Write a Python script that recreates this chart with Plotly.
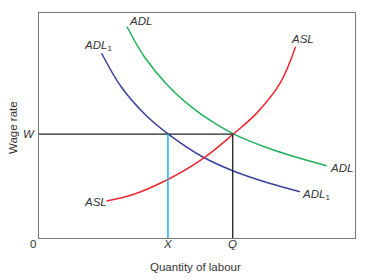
import plotly.graph_objects as go

# Curve points (x: quantity of labour, y: wage rate)
adl_x = [2.78, 3.35, 4.09, 4.83, 5.47, 6.15, 7.20, 8.04, 9.10]
adl_y = [9.40, 8.02, 6.76, 5.82, 5.18, 4.63, 4.02, 3.63, 3.21]

adl1_x = [1.98, 2.60, 3.35, 4.09, 5.19, 6.15, 7.21, 8.26]
adl1_y = [8.21, 6.72, 5.50, 4.62, 3.60, 2.98, 2.47, 2.06]

asl_x = [2.14, 2.98, 4.09, 5.20, 6.15, 6.89, 7.63, 8.12]
asl_y = [1.64, 1.93, 2.61, 3.54, 4.62, 5.55, 6.88, 8.50]

X_val = 4.08
Q_val = 6.13
W_val = 4.62

x_tick_labels = ["0", "X", "Q"]
y_tick_labels = ["W"]

fig = go.Figure()

line_w = 1.5
fig.add_trace(go.Scatter(x=adl_x, y=adl_y, mode="lines",
                         line=dict(color="#1fb25a", width=line_w, shape="spline", smoothing=1.0)))
fig.add_trace(go.Scatter(x=adl1_x, y=adl1_y, mode="lines",
                         line=dict(color="#3c3f9c", width=line_w, shape="spline", smoothing=1.0)))
fig.add_trace(go.Scatter(x=asl_x, y=asl_y, mode="lines",
                         line=dict(color="#f0262e", width=line_w, shape="spline", smoothing=1.0)))
# guide lines
fig.add_trace(go.Scatter(x=[0, Q_val], y=[W_val, W_val], mode="lines",
                         line=dict(color="#222222", width=1.3)))
fig.add_trace(go.Scatter(x=[Q_val, Q_val], y=[0, W_val], mode="lines",
                         line=dict(color="#222222", width=1.3)))
fig.add_trace(go.Scatter(x=[X_val, X_val], y=[0, W_val], mode="lines",
                         line=dict(color="#2bb5ea", width=1.6)))

font_fam = "Liberation Sans, Arial, sans-serif"
txt_col = "#333333"
fnt = dict(family=font_fam, size=11.5, color=txt_col)

def pxp(px):
    return (px - 39) / 316.0

def pyp(py):
    return (238 - py) / 225.0

anns = [
    ("<i>ADL</i>", 140, 21),
    ("<i>ADL</i><sub>1</sub>", 98, 46),
    ("<i>ASL</i>", 302, 39),
    ("<i>ADL</i>", 341, 168),
    ("<i>ADL</i><sub>1</sub>", 316, 195),
    ("<i>ASL</i>", 95, 202),
]
for t, px, py in anns:
    fig.add_annotation(xref="paper", yref="paper", x=pxp(px), y=pyp(py), text=t,
                       showarrow=False, font=fnt, xanchor="center", yanchor="middle")

# tick labels
fig.add_annotation(xref="paper", yref="paper", x=pxp(33), y=pyp(244),
                   text=x_tick_labels[0], showarrow=False, font=fnt,
                   xanchor="center", yanchor="middle")
fig.add_annotation(xref="x", yref="paper", x=X_val, y=pyp(244),
                   text="<i>" + x_tick_labels[1] + "</i>", showarrow=False, font=fnt,
                   xanchor="center", yanchor="middle")
fig.add_annotation(xref="x", yref="paper", x=Q_val, y=pyp(244),
                   text="<i>" + x_tick_labels[2] + "</i>", showarrow=False, font=fnt,
                   xanchor="center", yanchor="middle")
fig.add_annotation(xref="paper", yref="y", x=pxp(29), y=W_val,
                   text="<i>" + y_tick_labels[0] + "</i>", showarrow=False, font=fnt,
                   xanchor="center", yanchor="middle")

# axis titles
fig.add_annotation(xref="paper", yref="paper", x=pxp(195), y=pyp(267),
                   text="Quantity of labour", showarrow=False, font=fnt,
                   xanchor="center", yanchor="middle")
fig.add_annotation(xref="paper", yref="paper", x=pxp(13), y=pyp(128),
                   text="Wage rate", showarrow=False, textangle=-90, font=fnt,
                   xanchor="center", yanchor="middle")

axis_common = dict(range=[0, 10], showgrid=False, zeroline=False, showticklabels=False,
                   ticks="", showline=True, linecolor="#777777", linewidth=1.2, mirror=True,
                   fixedrange=True)
fig.update_layout(
    width=369, height=280,
    margin=dict(l=39, r=14, t=13, b=42),
    paper_bgcolor="white", plot_bgcolor="white",
    showlegend=False,
    xaxis=axis_common,
    yaxis=axis_common,
)

fig.write_html("out.html", config={"displayModeBar": False})
